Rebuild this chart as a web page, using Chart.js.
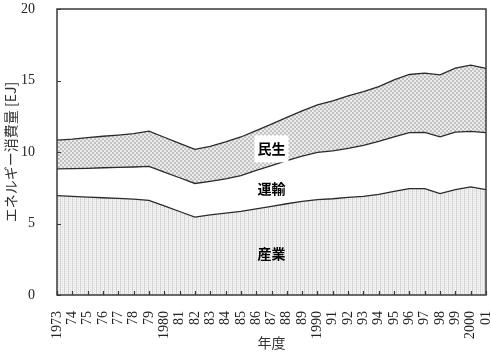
<!DOCTYPE html>
<html lang="ja">
<head>
<meta charset="UTF-8">
<title>エネルギー消費量</title>
<script src="https://cdn.jsdelivr.net/npm/chart.js"></script>
<style>
  body { margin: 0; padding: 0; background: #fff; }
  .wrap { width: 491px; height: 361px; }
</style>
</head>
<body>
<div class="wrap"><canvas id="energyChart" width="491" height="361"></canvas></div>
<script>
// 年度 labels
const years = ['1973','74','75','76','77','78','79','1980','81','82','83','84','85','86','87','88','89',
               '1990','91','92','93','94','95','96','97','98','99','2000','01'];
// EJ, stacked from the bottom
const industry = [6.95, 6.90, 6.85, 6.80, 6.75, 6.70, 6.62, 6.23, 5.84, 5.45, 5.60, 5.72, 5.85, 6.03, 6.20,
                  6.38, 6.55, 6.67, 6.73, 6.83, 6.90, 7.04, 7.25, 7.44, 7.44, 7.09, 7.37, 7.56, 7.37];
const transport = [1.87, 1.94, 2.01, 2.10, 2.17, 2.25, 2.38, 2.37, 2.36, 2.35, 2.35, 2.40, 2.50, 2.69, 2.85,
                   3.02, 3.17, 3.30, 3.35, 3.42, 3.56, 3.70, 3.81, 3.91, 3.93, 3.97, 4.02, 3.88, 3.98];
const residential = [2.01, 2.06, 2.14, 2.20, 2.26, 2.33, 2.46, 2.43, 2.40, 2.38, 2.45, 2.58, 2.70, 2.78, 2.90,
                     3.02, 3.16, 3.33, 3.49, 3.67, 3.76, 3.83, 3.98, 4.07, 4.14, 4.33, 4.47, 4.63, 4.49];
const yTicks = [0, 5, 10, 15, 20];

const serif = '"Liberation Serif", "DejaVu Serif", serif';
const jp = '"Noto Sans CJK JP", "Noto Sans", sans-serif';

// fill patterns
function makePattern(size, draw) {
    const c = document.createElement('canvas');
    c.width = c.height = size;
    const g = c.getContext('2d');
    draw(g);
    return g.createPattern(c, 'repeat');
}
const dotPattern = makePattern(4, g => {
    g.fillStyle = '#f3f3f3'; g.fillRect(0, 0, 4, 4);
    g.fillStyle = '#d2d2d2'; g.fillRect(0, 0, 1, 4);
    g.fillStyle = '#dadada'; g.fillRect(2, 1, 1, 1); g.fillRect(2, 3, 1, 1);
});
const checkPattern = makePattern(4, g => {
    g.fillStyle = '#ececec'; g.fillRect(0, 0, 4, 4);
    g.fillStyle = '#c2c2c2'; g.fillRect(0, 0, 2, 2); g.fillRect(2, 2, 2, 2);
});

// frame and inward tick marks
const framePlugin = {
    id: 'frame',
    afterDatasetsDraw(chart) {
        const { ctx, chartArea: a, scales: { x, y } } = chart;
        ctx.save();
        ctx.strokeStyle = '#3a3a3a';
        ctx.lineWidth = 1.2;
        ctx.beginPath();
        x.ticks.forEach((t, i) => {
            const px = Math.round(x.getPixelForTick(i)) + 0.5;
            ctx.moveTo(px, a.bottom); ctx.lineTo(px, a.bottom - 4);
        });
        y.ticks.forEach((t, i) => {
            const py = Math.round(y.getPixelForTick(i)) + 0.5;
            ctx.moveTo(a.left, py); ctx.lineTo(a.left + 4, py);
        });
        ctx.stroke();
        ctx.lineWidth = 1.5;
        ctx.strokeRect(a.left, a.top, a.right - a.left, a.bottom - a.top);
        ctx.restore();
    }
};

// sector names inside the areas
const namePlugin = {
    id: 'names',
    afterDatasetsDraw(chart) {
        const { ctx, scales: { x, y } } = chart;
        const names = [['民生', 14, 10.25, true], ['運輸', 14, 7.44, false], ['産業', 14, 2.88, false]];
        ctx.save();
        ctx.font = 'bold 14px ' + jp;
        ctx.textAlign = 'center';
        ctx.textBaseline = 'middle';
        names.forEach(([txt, xi, yv, box]) => {
            const px = x.getPixelForValue(xi), py = y.getPixelForValue(yv);
            if (box) {
                ctx.fillStyle = '#fff';
                ctx.fillRect(px - 17, py - 13, 34, 27);
            }
            ctx.fillStyle = '#000';
            ctx.fillText(txt, px, py);
        });
        ctx.restore();
    }
};

const lineStyle = { borderColor: '#2b2b2b', borderWidth: 1.3, pointRadius: 0, tension: 0 };

new Chart(document.getElementById('energyChart'), {
    type: 'line',
    data: {
        labels: years,
        datasets: [
            { label: '産業', data: industry, backgroundColor: dotPattern, fill: 'origin', ...lineStyle },
            { label: '運輸', data: transport, backgroundColor: '#ffffff', fill: '-1', ...lineStyle },
            { label: '民生', data: residential, backgroundColor: checkPattern, fill: '-1', ...lineStyle }
        ]
    },
    options: {
        responsive: false,
        animation: false,
        layout: { padding: { top: 9, right: 5 } },
        plugins: { legend: { display: false }, tooltip: { enabled: false } },
        scales: {
            x: {
                offset: false,
                grid: { display: false },
                border: { display: false },
                ticks: {
                    autoSkip: false, maxRotation: 90, minRotation: 90, padding: 8,
                    color: '#222', font: { family: serif, size: 14 }
                },
                title: {
                    display: true, text: '年度', color: '#333',
                    font: { family: jp, size: 14 }, padding: { top: 0, bottom: 10 }
                },
                afterFit(scale) {
                    scale.height = 66;
                    scale.paddingLeft = 0;
                    scale.paddingRight = 0;
                }
            },
            y: {
                stacked: true,
                min: 0, max: 20,
                afterBuildTicks(scale) { scale.ticks = yTicks.map(v => ({ value: v })); },
                grid: { display: false },
                border: { display: false },
                ticks: { padding: 14, color: '#222', font: { family: serif, size: 14 } },
                title: {
                    display: true, text: 'エネルギー消費量 [EJ]', color: '#333',
                    font: { family: jp, size: 14 }, padding: { top: 2, bottom: 0 }
                },
                afterFit(scale) {
                    scale.width = 57;
                    scale.paddingTop = 0;
                    scale.paddingBottom = 0;
                }
            }
        }
    },
    plugins: [framePlugin, namePlugin]
});
</script>
</body>
</html>
